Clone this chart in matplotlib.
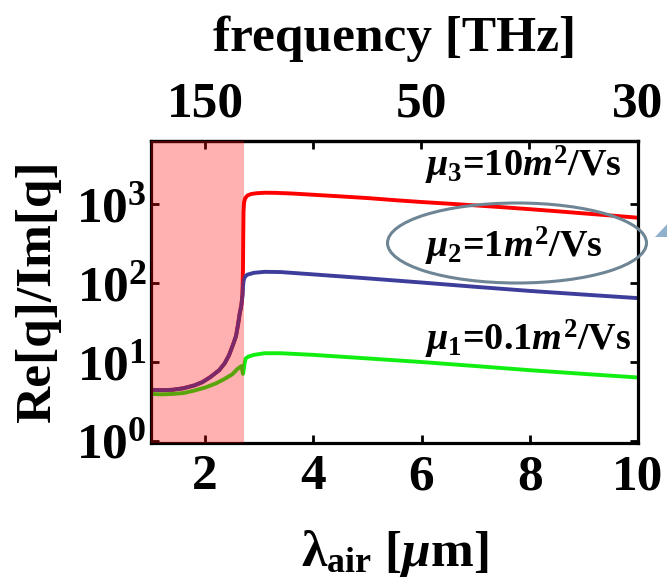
import numpy as np
import matplotlib
matplotlib.use('Agg')
import matplotlib.pyplot as plt
from matplotlib.patches import Ellipse, Polygon

# wavelength in air [um] and quality factor Re[q]/Im[q] for three mobilities
lam_mu3 = [1.0, 1.2, 1.4, 1.6, 1.8, 1.95, 2.1, 2.26, 2.36, 2.44, 2.51, 2.57, 2.61, 2.64,
           2.67, 2.69, 2.70, 2.705, 2.71, 2.72, 2.74, 2.78, 2.85, 2.95, 3.1, 3.3, 3.6,
           4.0, 4.5, 5.0, 5.5, 6.0, 6.5, 7.0, 7.5, 8.0, 8.5, 9.0, 9.5, 10.0]
q_mu3 = [4.4, 4.35, 4.4, 4.6, 5.0, 5.5, 6.4, 7.8, 9.5, 12, 16, 21, 30, 41,
         52, 70, 150, 400, 800, 1050, 1180, 1280, 1340, 1370, 1390, 1385, 1360,
         1310, 1250, 1190, 1120, 1060, 1010, 960, 910, 860, 810, 760, 715, 670]

lam_mu2 = [1.0, 1.2, 1.4, 1.6, 1.8, 1.95, 2.1, 2.26, 2.36, 2.44, 2.51, 2.57, 2.61, 2.64,
           2.67, 2.69, 2.70, 2.71, 2.73, 2.78, 2.9, 3.1, 3.4,
           4.0, 5.0, 6.0, 7.0, 8.0, 9.0, 10.0]
q_mu2 = [4.4, 4.35, 4.4, 4.6, 5.0, 5.5, 6.4, 7.8, 9.5, 12, 16, 21, 30, 41,
         52, 70, 90, 105, 118, 127, 134, 138, 137,
         128, 114, 101, 89, 79, 71, 64]

lam_mu1 = [1.0, 1.2, 1.4, 1.6, 1.8, 2.0, 2.2, 2.35, 2.5, 2.6, 2.67, 2.70, 2.72, 2.73,
           2.75, 2.8, 2.9, 3.1, 3.4, 4.0, 5.0, 6.0, 7.0, 8.0, 9.0, 10.0]
q_mu1 = [3.9, 3.85, 3.9, 4.0, 4.3, 4.7, 5.3, 6.0, 6.9, 8.1, 8.8, 7.0, 8.5, 9.5,
         11.0, 11.6, 12.2, 12.8, 12.8, 12.2, 11.0, 9.9, 8.8, 7.8, 7.0, 6.3]

labels_mu = [r'$\mu_3$=10$m^2$/Vs',
             r'$\mu_2$=1$m^2$/Vs',
             r'$\mu_1$=0.1$m^2$/Vs']
label_pos = [2240, 209, 14.0]     # y (data units) of each label baseline

interband_edge = 2.72           # um, edge of the shaded region
freq_ticks = [150, 75, 50, 37.5, 30]
freq_labels = ['150', '', '50', '', '30']
y_ticks = [1, 10, 100, 1000]
y_labels = [r'$\mathrm{10^{0}}$', r'$\mathrm{10^{1}}$', r'$\mathrm{10^{2}}$', r'$\mathrm{10^{3}}$']
c_um_thz = 299.792458

plt.rcParams['font.family'] = ['Liberation Serif', 'DejaVu Serif']
plt.rcParams['font.weight'] = 'bold'
plt.rcParams['axes.labelweight'] = 'bold'
plt.rcParams['mathtext.fontset'] = 'custom'
plt.rcParams['mathtext.rm'] = 'Liberation Serif:bold'
plt.rcParams['mathtext.it'] = 'Liberation Serif:bold:italic'
plt.rcParams['mathtext.bf'] = 'Liberation Serif:bold'

fs = 37
fig = plt.figure(figsize=(6.67, 5.83), dpi=100)
ax = fig.add_axes([151 / 667, 1 - 443 / 583, 487 / 667, 302 / 583])

ax.plot(lam_mu3, q_mu3, color='#ff0000', lw=2.8, zorder=2)
ax.plot(lam_mu2, q_mu2, color='#3d3d9c', lw=2.8, zorder=2.1)
ax.plot(lam_mu1, q_mu1, color='#11ee11', lw=2.8, zorder=2.2)
ax.axvspan(1, interband_edge, color='#ff0000', alpha=0.31, lw=0, zorder=3)

ax.set_yscale('log')
ax.set_xlim(1, 10)
ax.set_ylim(0.93, 6300)
ax.set_xticks([2, 4, 6, 8, 10])
ax.set_yticks(y_ticks, labels=y_labels)
ax.minorticks_off()
ax.tick_params(direction='in', length=6, width=2, labelsize=fs, right=True, pad=3)
ax.tick_params(axis='x', pad=8)
for sp in ax.spines.values():
    sp.set_linewidth(2.3)

ax.set_xlabel(r'λ$_{\mathrm{air}}$ [$\mu$m]', fontsize=fs, labelpad=20)
ax.set_ylabel('Re[q]/Im[q]', fontsize=fs, labelpad=11)

# frequency axis on top
sec = ax.secondary_xaxis('top', functions=(lambda l: c_um_thz / np.clip(l, 1e-3, None),
                                           lambda f: c_um_thz / np.clip(f, 1e-3, None)))
sec.set_xticks(freq_ticks, labels=freq_labels)
sec.minorticks_off()
sec.tick_params(direction='in', length=6, width=2, labelsize=fs, pad=10)
sec.spines['top'].set_linewidth(2.3)
sec.set_xlabel('frequency [THz]', fontsize=fs, labelpad=22)

for txt, yv in zip(labels_mu, label_pos):
    ax.text(6.06, yv, txt, fontsize=27.5, ha='left', va='baseline', zorder=4)

# highlight around the middle label
ell = Ellipse((517 / 667, 1 - 243 / 583), 259 / 667, 80 / 583, transform=fig.transFigure,
              fill=False, ec='#6e8595', lw=2.2, clip_on=False, zorder=5)
fig.add_artist(ell)
tri = Polygon([(655 / 667, 1 - 237 / 583), (672 / 667, 1 - 219 / 583), (672 / 667, 1 - 237 / 583)],
              closed=True, transform=fig.transFigure, fc='#90b0cc', ec='none', clip_on=False)
fig.add_artist(tri)

fig.savefig('out.png', dpi=100)
